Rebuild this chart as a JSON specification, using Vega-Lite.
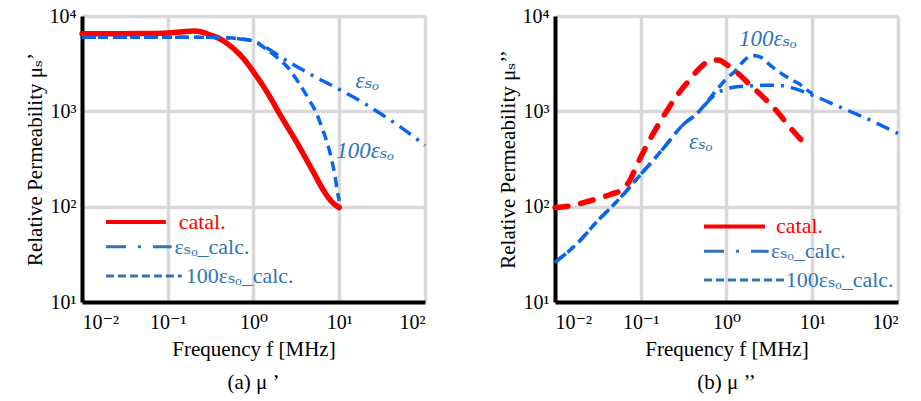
{
  "$schema": "https://vega.github.io/schema/vega-lite/v6.json",
  "background": "white",
  "padding": {"left": 24, "top": 6, "right": 5, "bottom": 2},
  "spacing": 65,
  "config": {
    "view": {"stroke": null},
    "font": "Liberation Serif, DejaVu Serif, serif",
    "axis": {
      "grid": true, "gridColor": "#d9d9d9", "gridWidth": 3.5, "zindex": 0,
      "domainColor": "black", "domainWidth": 4, "ticks": false,
      "labelFont": "Liberation Serif, DejaVu Serif, serif", "labelFontSize": 20, "labelColor": "black",
      "titleFont": "Liberation Serif, DejaVu Serif, serif", "titleFontSize": 21, "titleFontWeight": "normal", "titleColor": "black",
      "labelExpr": "['10⁻²','10⁻¹','10⁰','10¹','10²','10³','10⁴'][round(log(datum.value)/LN10)+2]"
    },
    "title": {"font": "Liberation Serif, DejaVu Serif, serif", "fontSize": 21, "fontWeight": "normal", "color": "black"}
  },
  "datasets": {
    "left": [
      {"s": "catal", "f": 0.01, "mu": 6500}, {"s": "catal", "f": 0.02, "mu": 6500}, {"s": "catal", "f": 0.05, "mu": 6550}, {"s": "catal", "f": 0.1, "mu": 6650}, {"s": "catal", "f": 0.15, "mu": 6850}, {"s": "catal", "f": 0.2, "mu": 6950}, {"s": "catal", "f": 0.25, "mu": 6800}, {"s": "catal", "f": 0.3, "mu": 6400}, {"s": "catal", "f": 0.4, "mu": 5800}, {"s": "catal", "f": 0.5, "mu": 5100}, {"s": "catal", "f": 0.7, "mu": 3900}, {"s": "catal", "f": 1, "mu": 2600}, {"s": "catal", "f": 1.5, "mu": 1500}, {"s": "catal", "f": 2, "mu": 950}, {"s": "catal", "f": 3, "mu": 520}, {"s": "catal", "f": 4, "mu": 330}, {"s": "catal", "f": 5, "mu": 230}, {"s": "catal", "f": 6, "mu": 170}, {"s": "catal", "f": 7, "mu": 135}, {"s": "catal", "f": 8, "mu": 115}, {"s": "catal", "f": 9, "mu": 104}, {"s": "catal", "f": 10, "mu": 98},
      {"s": "eso", "f": 0.01, "mu": 6000}, {"s": "eso", "f": 0.05, "mu": 6000}, {"s": "eso", "f": 0.1, "mu": 6000}, {"s": "eso", "f": 0.3, "mu": 6000}, {"s": "eso", "f": 0.5, "mu": 5900}, {"s": "eso", "f": 0.7, "mu": 5750}, {"s": "eso", "f": 1, "mu": 5450}, {"s": "eso", "f": 1.5, "mu": 4500}, {"s": "eso", "f": 2, "mu": 3800}, {"s": "eso", "f": 3, "mu": 3050}, {"s": "eso", "f": 5, "mu": 2350}, {"s": "eso", "f": 10, "mu": 1700}, {"s": "eso", "f": 20, "mu": 1200}, {"s": "eso", "f": 30, "mu": 950}, {"s": "eso", "f": 50, "mu": 700}, {"s": "eso", "f": 100, "mu": 440},
      {"s": "eso100", "f": 0.01, "mu": 6000}, {"s": "eso100", "f": 0.1, "mu": 6000}, {"s": "eso100", "f": 0.3, "mu": 6000}, {"s": "eso100", "f": 0.5, "mu": 5900}, {"s": "eso100", "f": 0.7, "mu": 5750}, {"s": "eso100", "f": 1, "mu": 5450}, {"s": "eso100", "f": 1.5, "mu": 4300}, {"s": "eso100", "f": 2, "mu": 3500}, {"s": "eso100", "f": 2.5, "mu": 2900}, {"s": "eso100", "f": 3.3, "mu": 2050}, {"s": "eso100", "f": 4.5, "mu": 1300}, {"s": "eso100", "f": 5.3, "mu": 1000}, {"s": "eso100", "f": 6.5, "mu": 620}, {"s": "eso100", "f": 7.5, "mu": 420}, {"s": "eso100", "f": 8.1, "mu": 320}, {"s": "eso100", "f": 9, "mu": 200}, {"s": "eso100", "f": 9.5, "mu": 145}, {"s": "eso100", "f": 10, "mu": 115}
    ],
    "right": [
      {"s": "catal", "f": 0.01, "mu": 98}, {"s": "catal", "f": 0.015, "mu": 102}, {"s": "catal", "f": 0.02, "mu": 108}, {"s": "catal", "f": 0.03, "mu": 120}, {"s": "catal", "f": 0.045, "mu": 135}, {"s": "catal", "f": 0.06, "mu": 150}, {"s": "catal", "f": 0.075, "mu": 190}, {"s": "catal", "f": 0.088, "mu": 260}, {"s": "catal", "f": 0.1, "mu": 330}, {"s": "catal", "f": 0.13, "mu": 520}, {"s": "catal", "f": 0.163, "mu": 740}, {"s": "catal", "f": 0.2, "mu": 1000}, {"s": "catal", "f": 0.27, "mu": 1500}, {"s": "catal", "f": 0.365, "mu": 2100}, {"s": "catal", "f": 0.5, "mu": 2900}, {"s": "catal", "f": 0.65, "mu": 3400}, {"s": "catal", "f": 0.8, "mu": 3450}, {"s": "catal", "f": 1, "mu": 3100}, {"s": "catal", "f": 1.4, "mu": 2450}, {"s": "catal", "f": 1.82, "mu": 1950}, {"s": "catal", "f": 2.7, "mu": 1400}, {"s": "catal", "f": 3.8, "mu": 1020}, {"s": "catal", "f": 5.5, "mu": 680}, {"s": "catal", "f": 8.7, "mu": 430},
      {"s": "eso", "f": 0.01, "mu": 26}, {"s": "eso", "f": 0.02, "mu": 45}, {"s": "eso", "f": 0.03, "mu": 68}, {"s": "eso", "f": 0.046, "mu": 100}, {"s": "eso", "f": 0.07, "mu": 150}, {"s": "eso", "f": 0.095, "mu": 207}, {"s": "eso", "f": 0.15, "mu": 330}, {"s": "eso", "f": 0.2, "mu": 450}, {"s": "eso", "f": 0.3, "mu": 700}, {"s": "eso", "f": 0.48, "mu": 1000}, {"s": "eso", "f": 0.65, "mu": 1350}, {"s": "eso", "f": 0.82, "mu": 1600}, {"s": "eso", "f": 1, "mu": 1700}, {"s": "eso", "f": 1.16, "mu": 1780}, {"s": "eso", "f": 2, "mu": 1850}, {"s": "eso", "f": 3, "mu": 1880}, {"s": "eso", "f": 4.4, "mu": 1860}, {"s": "eso", "f": 6, "mu": 1750}, {"s": "eso", "f": 8, "mu": 1600}, {"s": "eso", "f": 10, "mu": 1480}, {"s": "eso", "f": 20, "mu": 1130}, {"s": "eso", "f": 50, "mu": 790}, {"s": "eso", "f": 100, "mu": 585},
      {"s": "eso100", "f": 0.01, "mu": 26}, {"s": "eso100", "f": 0.02, "mu": 45}, {"s": "eso100", "f": 0.03, "mu": 68}, {"s": "eso100", "f": 0.046, "mu": 100}, {"s": "eso100", "f": 0.07, "mu": 150}, {"s": "eso100", "f": 0.095, "mu": 207}, {"s": "eso100", "f": 0.15, "mu": 330}, {"s": "eso100", "f": 0.2, "mu": 450}, {"s": "eso100", "f": 0.3, "mu": 700}, {"s": "eso100", "f": 0.48, "mu": 1000}, {"s": "eso100", "f": 0.65, "mu": 1400}, {"s": "eso100", "f": 0.82, "mu": 1800}, {"s": "eso100", "f": 1, "mu": 2200}, {"s": "eso100", "f": 1.29, "mu": 2700}, {"s": "eso100", "f": 1.6, "mu": 3400}, {"s": "eso100", "f": 2, "mu": 3850}, {"s": "eso100", "f": 2.5, "mu": 3700}, {"s": "eso100", "f": 3.3, "mu": 3000}, {"s": "eso100", "f": 4.5, "mu": 2450}, {"s": "eso100", "f": 6, "mu": 2100}, {"s": "eso100", "f": 7, "mu": 1950}, {"s": "eso100", "f": 8.5, "mu": 1700}, {"s": "eso100", "f": 10, "mu": 1530}
    ],
    "leftNotes": [
      {"f": 15.5, "mu": 2080, "t": "εₛₒ"},
      {"f": 9.2, "mu": 384, "t": "100εₛₒ"}
    ],
    "rightNotes": [
      {"f": 1.4, "mu": 5750, "t": "100εₛₒ"},
      {"f": 0.366, "mu": 480, "t": "εₛₒ"}
    ],
    "leftLegend": [
      {"s": "catal", "f1": 0.019, "f2": 0.095, "ft": 0.134, "mu": 69, "t": "catal."},
      {"s": "eso", "f1": 0.019, "f2": 0.111, "ft": 0.12, "mu": 38, "t": "εₛₒ_calc."},
      {"s": "eso100", "f1": 0.019, "f2": 0.146, "ft": 0.162, "mu": 18.7, "t": "100εₛₒ_calc."}
    ],
    "rightLegend": [
      {"s": "catal", "f1": 0.547, "f2": 2.81, "ft": 3.78, "mu": 62, "t": "catal."},
      {"s": "eso", "f1": 0.547, "f2": 3.1, "ft": 3.3, "mu": 34, "t": "εₛₒ_calc."},
      {"s": "eso100", "f1": 0.547, "f2": 4.7, "ft": 4.9, "mu": 17, "t": "100εₛₒ_calc."}
    ]
  },
  "hconcat": [
    {
      "width": 343, "height": 286,
      "title": {"text": "(a) μ ’", "orient": "bottom", "offset": 13},
      "encoding": {
        "x": {"field": "f", "type": "quantitative", "scale": {"type": "log", "domain": [0.01, 100]}, "axis": {"values": [0.01, 0.1, 1, 10, 100], "title": "Frequency f [MHz]", "labelPadding": 10, "titlePadding": 6}},
        "y": {"field": "mu", "type": "quantitative", "scale": {"type": "log", "domain": [10, 10000]}, "axis": {"values": [10, 100, 1000, 10000], "title": "Relative Permeability μₛ’", "labelPadding": 6, "titlePadding": 4}}
      },
      "layer": [
        {"data": {"name": "left"}, "transform": [{"filter": "datum.s === 'catal'"}], "mark": {"type": "line", "color": "#ff0000", "strokeWidth": 5.5, "strokeCap": "round", "interpolate": "monotone"}},
        {"data": {"name": "left"}, "transform": [{"filter": "datum.s === 'eso'"}], "mark": {"type": "line", "color": "#0a64f0", "strokeWidth": 3.5, "strokeDash": [14, 7, 3, 7], "interpolate": "monotone"}},
        {"data": {"name": "left"}, "transform": [{"filter": "datum.s === 'eso100'"}], "mark": {"type": "line", "color": "#0a64f0", "strokeWidth": 3.5, "strokeDash": [10, 6], "interpolate": "monotone"}},
        {"data": {"name": "leftNotes"}, "mark": {"type": "text", "align": "left", "baseline": "middle", "fontSize": 23, "fontStyle": "italic", "color": "#2e75b6", "font": "Liberation Serif, DejaVu Serif, serif"}, "encoding": {"text": {"field": "t"}}},
        {"data": {"name": "leftLegend"}, "transform": [{"filter": "datum.s === 'catal'"}], "mark": {"type": "rule", "color": "#ff0000", "strokeWidth": 4}, "encoding": {"x": {"field": "f1", "type": "quantitative"}, "x2": {"field": "f2"}, "y": {"field": "mu", "type": "quantitative"}}},
        {"data": {"name": "leftLegend"}, "transform": [{"filter": "datum.s === 'eso'"}], "mark": {"type": "rule", "color": "#2e75b6", "strokeWidth": 3, "strokeDash": [20, 12, 3, 12]}, "encoding": {"x": {"field": "f1", "type": "quantitative"}, "x2": {"field": "f2"}, "y": {"field": "mu", "type": "quantitative"}}},
        {"data": {"name": "leftLegend"}, "transform": [{"filter": "datum.s === 'eso100'"}], "mark": {"type": "rule", "color": "#2e75b6", "strokeWidth": 3, "strokeDash": [8, 4]}, "encoding": {"x": {"field": "f1", "type": "quantitative"}, "x2": {"field": "f2"}, "y": {"field": "mu", "type": "quantitative"}}},
        {"data": {"name": "leftLegend"}, "mark": {"type": "text", "align": "left", "baseline": "middle", "fontSize": 22, "font": "Liberation Serif, DejaVu Serif, serif"}, "encoding": {"x": {"field": "ft", "type": "quantitative"}, "y": {"field": "mu", "type": "quantitative"}, "text": {"field": "t"}, "color": {"field": "s", "type": "nominal", "scale": {"domain": ["catal", "eso", "eso100"], "range": ["#ff0000", "#2e75b6", "#2e75b6"]}, "legend": null}}}
      ]
    },
    {
      "width": 343, "height": 286,
      "title": {"text": "(b) μ ’’", "orient": "bottom", "offset": 13},
      "encoding": {
        "x": {"field": "f", "type": "quantitative", "scale": {"type": "log", "domain": [0.01, 100]}, "axis": {"values": [0.01, 0.1, 1, 10, 100], "title": "Frequency f [MHz]", "labelPadding": 10, "titlePadding": 6}},
        "y": {"field": "mu", "type": "quantitative", "scale": {"type": "log", "domain": [10, 10000]}, "axis": {"values": [10, 100, 1000, 10000], "title": "Relative Permeability μₛ’’", "labelPadding": 6, "titlePadding": 4}}
      },
      "layer": [
        {"data": {"name": "right"}, "transform": [{"filter": "datum.s === 'eso'"}], "mark": {"type": "line", "color": "#0a64f0", "strokeWidth": 3.5, "strokeDash": [14, 7, 3, 7], "interpolate": "monotone"}},
        {"data": {"name": "right"}, "transform": [{"filter": "datum.s === 'eso100'"}], "mark": {"type": "line", "color": "#0a64f0", "strokeWidth": 3.5, "strokeDash": [10, 6], "interpolate": "monotone"}},
        {"data": {"name": "right"}, "transform": [{"filter": "datum.s === 'catal'"}], "mark": {"type": "line", "color": "#ff0000", "strokeWidth": 5.5, "strokeCap": "round", "strokeDash": [13, 13], "interpolate": "monotone"}},
        {"data": {"name": "rightNotes"}, "mark": {"type": "text", "align": "left", "baseline": "middle", "fontSize": 23, "fontStyle": "italic", "color": "#2e75b6", "font": "Liberation Serif, DejaVu Serif, serif"}, "encoding": {"text": {"field": "t"}}},
        {"data": {"name": "rightLegend"}, "transform": [{"filter": "datum.s === 'catal'"}], "mark": {"type": "rule", "color": "#ff0000", "strokeWidth": 4}, "encoding": {"x": {"field": "f1", "type": "quantitative"}, "x2": {"field": "f2"}, "y": {"field": "mu", "type": "quantitative"}}},
        {"data": {"name": "rightLegend"}, "transform": [{"filter": "datum.s === 'eso'"}], "mark": {"type": "rule", "color": "#2e75b6", "strokeWidth": 3, "strokeDash": [20, 12, 3, 12]}, "encoding": {"x": {"field": "f1", "type": "quantitative"}, "x2": {"field": "f2"}, "y": {"field": "mu", "type": "quantitative"}}},
        {"data": {"name": "rightLegend"}, "transform": [{"filter": "datum.s === 'eso100'"}], "mark": {"type": "rule", "color": "#2e75b6", "strokeWidth": 3, "strokeDash": [8, 4]}, "encoding": {"x": {"field": "f1", "type": "quantitative"}, "x2": {"field": "f2"}, "y": {"field": "mu", "type": "quantitative"}}},
        {"data": {"name": "rightLegend"}, "mark": {"type": "text", "align": "left", "baseline": "middle", "fontSize": 22, "font": "Liberation Serif, DejaVu Serif, serif"}, "encoding": {"x": {"field": "ft", "type": "quantitative"}, "y": {"field": "mu", "type": "quantitative"}, "text": {"field": "t"}, "color": {"field": "s", "type": "nominal", "scale": {"domain": ["catal", "eso", "eso100"], "range": ["#ff0000", "#2e75b6", "#2e75b6"]}, "legend": null}}}
      ]
    }
  ]
}
